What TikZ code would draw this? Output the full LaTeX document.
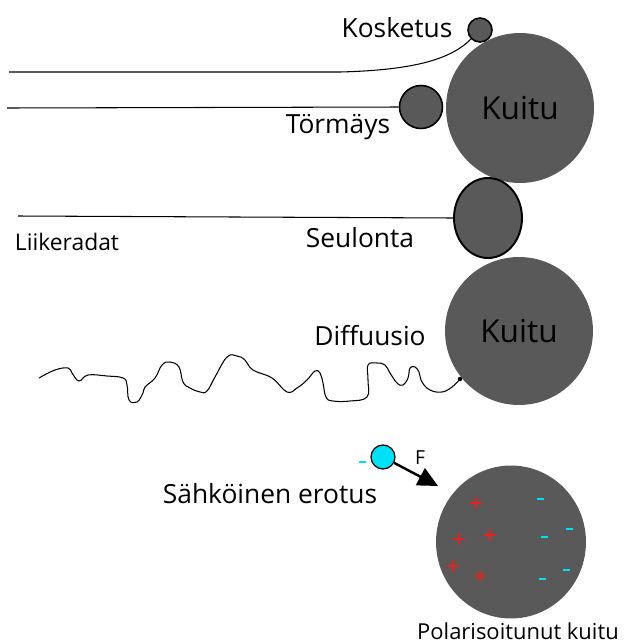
\documentclass[tikz,border=0pt]{standalone}
\usepackage{fontspec}
\setmainfont{Open Sans}
\usepackage{tikz}
\usetikzlibrary{shapes.geometric, arrows.meta}
\definecolor{fibre}{HTML}{595959}
\definecolor{ioncyan}{HTML}{00E1F5}
\definecolor{plusred}{HTML}{E32222}

\begin{document}
\begin{tikzpicture}[x=0.02cm, y=-0.02cm, line width=0.6pt]
  \tikzstyle{fibre}=[ellipse, fill=fibre, inner sep=0pt, font=\fontsize{18}{21}\selectfont]
  \tikzstyle{particle}=[ellipse, fill=fibre, draw=black, line width=0.9pt, inner sep=0pt]
  \tikzstyle{lbl}=[font=\fontsize{15}{18}\selectfont, inner sep=0pt]
  \useasboundingbox (0,0) rectangle (627,643);
  % fibres
  \node[fibre, minimum width=29.6mm, minimum height=30mm] (F_1) at (520,108) {Kuitu};
  \node[fibre, minimum width=29.6mm, minimum height=29.6mm] (F_2) at (519,331) {Kuitu};
  \node[fibre, minimum width=30mm, minimum height=30.6mm] (F_3) at (511,542) {};
  % particles
  \node[particle, minimum width=4.8mm, minimum height=4.8mm] (P_k) at (480,30) {};
  \node[particle, minimum width=8.6mm, minimum height=8.6mm] (P_t) at (421,107) {};
  \node[particle, line width=1.1pt, minimum width=13.6mm, minimum height=16mm] (P_s) at (488,218) {};
  \node[circle, fill=black, inner sep=0pt, minimum size=0.9mm] (P_d) at (460,379) {};
  \node[circle, fill=ioncyan, draw=black, line width=0.7pt, inner sep=0pt, minimum size=4.8mm] (P_e) at (383,457) {};
  % labels
  \node[lbl] (L_k) at (397,28) {Kosketus};
  \node[lbl] (L_t) at (338,127) {Törmäys};
  \node[lbl] (L_s) at (360,238) {Seulonta};
  \node[lbl, font=\fontsize{13}{16}\selectfont] (L_r) at (67,242) {Liikeradat};
  \node[lbl] (L_d) at (370,336) {Diffuusio};
  \node[lbl] (L_e) at (270,494) {Sähköinen erotus};
  \node[lbl, font=\fontsize{12.5}{15}\selectfont] (L_p) at (518,631) {Polarisoitunut kuitu};
  \node[lbl, font=\fontsize{11}{13}\selectfont] (L_f) at (420,458) {F};
  % trajectories
  \coordinate (S_k) at (9,72);
  \coordinate (S_t) at (7,108);
  \coordinate (S_s) at (18,216);
  \coordinate (S_d) at (39,378);
  \coordinate (A_e) at (438,486);
  \draw (S_k) -- (340,72) .. controls (418,70) and (452,58) .. (P_k.south west);
  \draw (S_t) -- (P_t.west);
  \draw (S_s) -- (P_s.west);
  \draw plot[smooth, tension=0.7] coordinates {(S_d) (55,370) (68,368) (72,373) (79,381)
    (88,375) (107,376) (123,378) (127,385) (129,400) (137,402) (143,393) (145,387) (155,378)
    (162,365) (170,362) (179,367) (183,382) (190,388) (200,392) (207,391) (215,377) (227,357)
    (237,356) (245,360) (253,370) (272,378) (287,392) (297,388) (307,380) (315,371) (320,373)
    (323,383) (326,397) (333,401) (350,401) (367,397) (368,380) (368,365) (377,363) (385,365)
    (390,373) (397,383) (403,385) (408,378) (410,368) (415,367) (419,372) (422,382) (430,390)
    (442,392) (452,387) (P_d)};
  \draw[line width=1.4pt, -{Triangle[length=4mm, width=3.8mm]}] (P_e) -- (A_e);
  % charges
  \draw[ioncyan, line width=1.2pt] (359,462) -- (366,462);
  \foreach \x/\y in {476/503, 459/539, 490/535, 453/566, 480/576}
    \draw[plusred, line width=1.1pt] (\x-6,\y) -- (\x+6,\y) (\x,\y-6) -- (\x,\y+6);
  \foreach \x/\y in {540/499, 569/529, 544/537, 566/570, 542/579}
    \draw[ioncyan, line width=1.2pt] (\x-3.5,\y) -- (\x+3.5,\y);
\end{tikzpicture}
\end{document}
